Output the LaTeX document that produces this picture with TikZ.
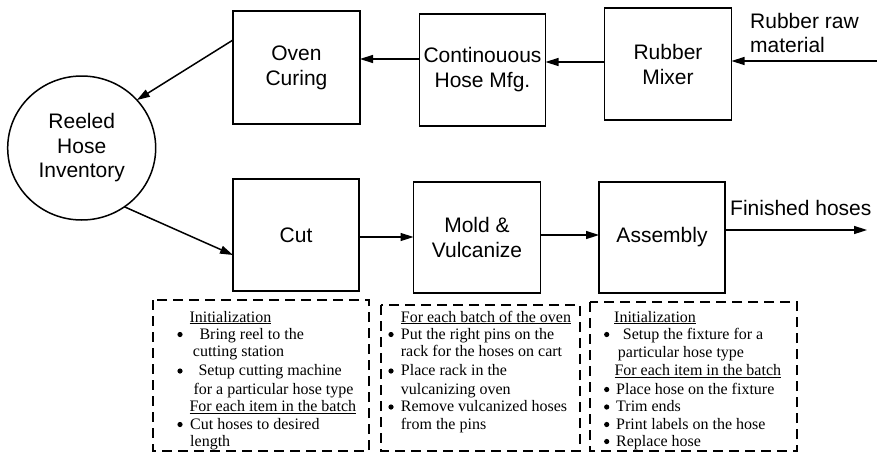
\documentclass[tikz,border=0pt]{standalone}
\usepackage{fontspec}
\setmainfont{Liberation Serif}
\setsansfont{Liberation Sans}
\usetikzlibrary{arrows.meta,shapes.geometric}
\begin{document}
\begin{tikzpicture}[x=1pt,y=-1pt,
 box/.style={draw,line width=1.5pt,inner sep=0pt,outer sep=0pt,align=center,font=\sffamily\fontsize{21}{25}\selectfont},
 arr/.style={line width=1.5pt,-{Triangle[length=13pt,width=8pt]}},
 dbox/.style={line width=1.4pt,dash pattern=on 10pt off 6pt},
 txt/.style={anchor=base west,inner sep=0pt,font=\fontsize{16}{17}\selectfont},
 lab/.style={anchor=base west,inner sep=0pt,font=\sffamily\fontsize{21}{24}\selectfont},
 bul/.style={fill=black}]
\useasboundingbox (0,0) rectangle (877,455);

% process boxes
\node[box,minimum width=127pt,minimum height=113pt] (oven) at (296.5,67.5) {Oven\\Curing};
\node[box,minimum width=126pt,minimum height=112pt] (cont) at (482.5,70) {Continouous\\Hose Mfg.};
\node[box,minimum width=127pt,minimum height=112pt] (mixer) at (668,64) {Rubber\\Mixer};
\node[box,minimum width=126pt,minimum height=112pt] (cut) at (296,235) {Cut};
\node[box,minimum width=127pt,minimum height=111pt] (mold) at (477,237.5) {Mold \&\\Vulcanize};
\node[box,minimum width=126pt,minimum height=111pt] (asm) at (662,237.5) {Assembly};
\node[draw,ellipse,line width=1.5pt,minimum width=148pt,minimum height=144pt,inner sep=0pt,outer sep=0pt,align=center,font=\sffamily\fontsize{21}{24.5}\selectfont] (inv) at (81.7,148) {Reeled\\Hose\\Inventory};

% labels
\node[lab] (raw1) at (750,28) {Rubber raw};
\node[lab] (raw2) at (750,52) {material};
\node[lab] (fin) at (730,215) {Finished hoses};

% connectors
\coordinate (rawin) at (877,61);
\coordinate (finend) at (867,230);
\draw[arr] (rawin) -- (rawin -| mixer.east);
\draw[arr] ([yshift=2pt]mixer.west) -- ([yshift=2pt]mixer.west -| cont.east);
\draw[arr] ([yshift=11pt]cont.west) -- ([yshift=11pt]cont.west -| oven.east);
\draw[arr] ([yshift=27.5pt]oven.west) -- (inv.41);
\draw[arr] (inv.-54) -- ([yshift=-20pt]cut.west);
\draw[arr] ([yshift=-2pt]cut.east) -- ([yshift=-2pt]cut.east -| mold.west);
\draw[arr] ([yshift=2.5pt]mold.east) -- ([yshift=2.5pt]mold.east -| asm.west);
\draw[arr] (asm.east |- finend) -- (finend);

% dashed boxes
\draw[dbox] (153,300) rectangle (369,451);
\draw[dbox] (381,305) rectangle (580,451);
\draw[dbox] (590,302) rectangle (797,451);

% box 1 text
\node[txt] (a1) at (189.3,322) {\underline{Initialization}};
\fill[bul] (180,334.5) circle (2.6);
\node[txt] (a2) at (199.3,339) {Bring reel to the};
\node[txt] (a3) at (192.7,356) {cutting station};
\fill[bul] (180,371) circle (2.6);
\node[txt] (a4) at (198.3,375.7) {Setup cutting machine};
\node[txt] (a5) at (193.3,394) {for a particular hose type};
\node[txt] (a6) at (189.3,411.7) {\underline{For each item in the batch}};
\fill[bul] (180,424.5) circle (2.6);
\node[txt] (a7) at (190,429) {Cut hoses to desired};
\node[txt] (a8) at (190,446) {length};

% box 2 text
\node[txt] (b1) at (400.7,322) {\underline{For each batch of the oven}};
\fill[bul] (391,334.5) circle (2.6);
\node[txt] (b2) at (400.7,339) {Put the right pins on the};
\node[txt] (b3) at (400.7,356) {rack for the hoses on cart};
\fill[bul] (391,371) circle (2.6);
\node[txt] (b4) at (400.7,375.7) {Place rack in the};
\node[txt] (b5) at (400.7,394) {vulcanizing oven};
\fill[bul] (391,407) circle (2.6);
\node[txt] (b6) at (400.7,411.7) {Remove vulcanized hoses};
\node[txt] (b7) at (400.7,429) {from the pins};

% box 3 text
\node[txt] (c1) at (614,322) {\underline{Initialization}};
\fill[bul] (606.7,334.5) circle (2.6);
\node[txt] (c2) at (622.7,339) {Setup the fixture for a};
\node[txt] (c3) at (617.7,357.7) {particular hose type};
\node[txt] (c4) at (614.3,375.7) {\underline{For each item in the batch}};
\fill[bul] (606.7,389.5) circle (2.6);
\node[txt] (c5) at (616,394) {Place hose on the fixture};
\fill[bul] (606.7,407) circle (2.6);
\node[txt] (c6) at (616,411.7) {Trim ends};
\fill[bul] (606.7,424.5) circle (2.6);
\node[txt] (c7) at (616,429) {Print labels on the hose};
\fill[bul] (606.7,441.5) circle (2.6);
\node[txt] (c8) at (616,446) {Replace hose};
\end{tikzpicture}
\end{document}
